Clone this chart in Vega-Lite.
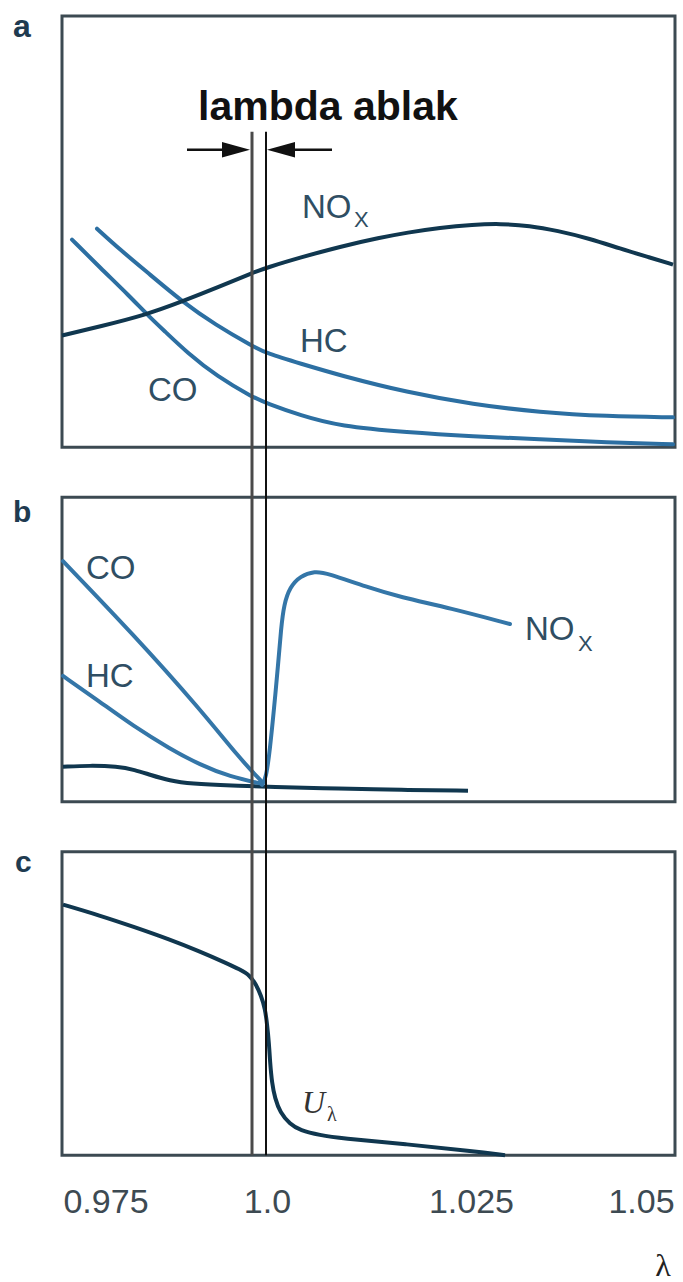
{
  "$schema": "https://vega.github.io/schema/vega-lite/v6.json",
  "width": 683,
  "height": 1282,
  "autosize": {"type": "fit", "contains": "padding"},
  "padding": 0,
  "background": "white",
  "config": {"view": {"stroke": null}, "text": {"font": "Liberation Sans"}},
  "resolve": {"scale": {"y": "independent"}},
  "layer": [
    {
      "encoding": {
        "x": {"field": "lam", "type": "quantitative", "scale": {"domain": [0.9584375, 1.06515625], "nice": false, "zero": false}, "axis": null},
        "y": {"field": "v", "type": "quantitative", "scale": {"domain": [-193.056, 103.704], "nice": false, "zero": false}, "axis": null}
      },
      "layer": [
        {
          "data": {"values": [{"lam": 0.968125, "lam2": 1.063906, "v": 0, "v2": 100}]},
          "mark": {"type": "rect", "fill": null, "stroke": "#3c4a52", "strokeWidth": 3},
          "encoding": {"x2": {"field": "lam2"}, "y2": {"field": "v2"}}
        },
        {
          "data": {"values": [
            {"series": "HC", "lam": 0.973594, "v": 50.69}, {"series": "HC", "lam": 0.977188, "v": 45.83}, {"series": "HC", "lam": 0.981875, "v": 40.05}, {"series": "HC", "lam": 0.986875, "v": 33.80}, {"series": "HC", "lam": 0.992031, "v": 28.47}, {"series": "HC", "lam": 0.997969, "v": 23.38}, {"series": "HC", "lam": 1.000156, "v": 21.76}, {"series": "HC", "lam": 1.005313, "v": 19.44}, {"series": "HC", "lam": 1.011563, "v": 16.67}, {"series": "HC", "lam": 1.022031, "v": 12.73}, {"series": "HC", "lam": 1.032344, "v": 9.95}, {"series": "HC", "lam": 1.042813, "v": 8.10}, {"series": "HC", "lam": 1.053281, "v": 7.18}, {"series": "HC", "lam": 1.063594, "v": 6.94},
            {"series": "CO", "lam": 0.969688, "v": 48.15}, {"series": "CO", "lam": 0.974063, "v": 41.67}, {"series": "CO", "lam": 0.97875, "v": 34.95}, {"series": "CO", "lam": 0.981406, "v": 30.79}, {"series": "CO", "lam": 0.984219, "v": 26.85}, {"series": "CO", "lam": 0.987656, "v": 21.99}, {"series": "CO", "lam": 0.992344, "v": 16.44}, {"series": "CO", "lam": 0.997969, "v": 11.57}, {"series": "CO", "lam": 1.000156, "v": 10.19}, {"series": "CO", "lam": 1.005313, "v": 7.41}, {"series": "CO", "lam": 1.011563, "v": 4.86}, {"series": "CO", "lam": 1.022031, "v": 3.47}, {"series": "CO", "lam": 1.032344, "v": 2.55}, {"series": "CO", "lam": 1.042813, "v": 1.85}, {"series": "CO", "lam": 1.053281, "v": 1.16}, {"series": "CO", "lam": 1.063594, "v": 0.69}
          ]},
          "mark": {"type": "line", "color": "#2c6fa2", "strokeWidth": 4, "interpolate": "basis", "strokeCap": "round"},
          "encoding": {"detail": {"field": "series"}}
        },
        {
          "data": {"values": [
            {"lam": 0.968125, "v": 25.93}, {"lam": 0.974063, "v": 28.01}, {"lam": 0.981406, "v": 30.79}, {"lam": 0.986875, "v": 33.80}, {"lam": 0.992813, "v": 37.27}, {"lam": 0.997969, "v": 40.51}, {"lam": 1.000156, "v": 41.67}, {"lam": 1.005313, "v": 43.98}, {"lam": 1.011563, "v": 46.53}, {"lam": 1.017813, "v": 48.61}, {"lam": 1.022031, "v": 49.77}, {"lam": 1.027188, "v": 50.93}, {"lam": 1.032344, "v": 51.62}, {"lam": 1.036563, "v": 51.85}, {"lam": 1.04125, "v": 51.39}, {"lam": 1.045469, "v": 50.23}, {"lam": 1.050625, "v": 48.38}, {"lam": 1.055313, "v": 46.06}, {"lam": 1.06, "v": 43.98}, {"lam": 1.063594, "v": 42.36}
          ]},
          "mark": {"type": "line", "color": "#10374f", "strokeWidth": 4, "interpolate": "basis"},
          "encoding": {}
        },
        {
          "data": {"values": [{"lam": 1.005625, "v": 53.24, "t": "NO"}, {"lam": 1.005313, "v": 21.99, "t": "HC"}, {"lam": 0.981563, "v": 10.65, "t": "CO"}]},
          "mark": {"type": "text", "align": "left", "baseline": "alphabetic", "fontSize": 33, "color": "#2f4e63"},
          "encoding": {"text": {"field": "t"}}
        },
        {
          "data": {"values": [{"lam": 1.01375, "v": 51.16, "t": "X"}]},
          "mark": {"type": "text", "align": "left", "baseline": "alphabetic", "fontSize": 22, "color": "#2f4e63"},
          "encoding": {"text": {"field": "t"}}
        },
        {
          "data": {"values": [{"lam": 0.960469, "v": 95.14, "t": "a"}]},
          "mark": {"type": "text", "align": "left", "baseline": "alphabetic", "fontSize": 32, "fontWeight": "bold", "color": "#1f3b50"},
          "encoding": {"text": {"field": "t"}}
        }
      ]
    },
    {
      "encoding": {
        "x": {"field": "lam", "type": "quantitative", "scale": {"domain": [0.9584375, 1.06515625], "nice": false, "zero": false}, "axis": null},
        "y": {"field": "v", "type": "quantitative", "scale": {"domain": [-157.049, 263.279], "nice": false, "zero": false}, "axis": null}
      },
      "layer": [
        {
          "data": {"values": [{"lam": 0.968125, "lam2": 1.063906, "v": 0, "v2": 100}]},
          "mark": {"type": "rect", "fill": null, "stroke": "#3c4a52", "strokeWidth": 3},
          "encoding": {"x2": {"field": "lam2"}, "y2": {"field": "v2"}}
        },
        {
          "data": {"values": [
            {"lam": 0.968281, "v": 11.48}, {"lam": 0.9725, "v": 11.90}, {"lam": 0.976719, "v": 11.60}, {"lam": 0.979531, "v": 10.49}, {"lam": 0.981875, "v": 8.82}, {"lam": 0.985, "v": 6.89}, {"lam": 0.988125, "v": 5.90}, {"lam": 0.994844, "v": 5.25}, {"lam": 1.000625, "v": 4.92}, {"lam": 1.011563, "v": 4.26}, {"lam": 1.020938, "v": 3.93}, {"lam": 1.031563, "v": 3.61}
          ]},
          "mark": {"type": "line", "color": "#10374f", "strokeWidth": 4, "interpolate": "basis"},
          "encoding": {}
        },
        {
          "data": {"values": [
            {"series": "CO", "lam": 0.968281, "v": 79.02}, {"series": "CO", "lam": 0.979219, "v": 55.08}, {"series": "CO", "lam": 0.989688, "v": 30.49}, {"series": "CO", "lam": 0.995938, "v": 14.10}, {"series": "CO", "lam": 0.999375, "v": 6.56},
            {"series": "HC", "lam": 0.968281, "v": 41.31}, {"series": "HC", "lam": 0.974063, "v": 32.79}, {"series": "HC", "lam": 0.979219, "v": 24.92}, {"series": "HC", "lam": 0.985, "v": 17.38}, {"series": "HC", "lam": 0.989688, "v": 12.13}, {"series": "HC", "lam": 0.994375, "v": 8.20}, {"series": "HC", "lam": 0.999375, "v": 5.90},
            {"series": "NOx", "lam": 0.999375, "v": 5.57}, {"series": "NOx", "lam": 1.0, "v": 7.54}, {"series": "NOx", "lam": 1.000625, "v": 17.38}, {"series": "NOx", "lam": 1.00125, "v": 30.49}, {"series": "NOx", "lam": 1.001875, "v": 44.59}, {"series": "NOx", "lam": 1.002344, "v": 56.72}, {"series": "NOx", "lam": 1.002813, "v": 64.92}, {"series": "NOx", "lam": 1.00375, "v": 70.49}, {"series": "NOx", "lam": 1.005313, "v": 74.10}, {"series": "NOx", "lam": 1.007656, "v": 75.74}, {"series": "NOx", "lam": 1.009531, "v": 75.08}, {"series": "NOx", "lam": 1.015781, "v": 70.49}, {"series": "NOx", "lam": 1.020938, "v": 67.21}, {"series": "NOx", "lam": 1.02875, "v": 63.61}, {"series": "NOx", "lam": 1.038125, "v": 58.36}
          ]},
          "mark": {"type": "line", "color": "#3476a8", "strokeWidth": 4, "interpolate": "basis", "strokeCap": "round"},
          "encoding": {"detail": {"field": "series"}}
        },
        {
          "data": {"values": [{"lam": 0.971875, "v": 73.11, "t": "CO"}, {"lam": 0.971875, "v": 37.70, "t": "HC"}, {"lam": 1.040469, "v": 53.11, "t": "NO"}]},
          "mark": {"type": "text", "align": "left", "baseline": "alphabetic", "fontSize": 33, "color": "#2f4e63"},
          "encoding": {"text": {"field": "t"}}
        },
        {
          "data": {"values": [{"lam": 1.04875, "v": 49.51, "t": "X"}]},
          "mark": {"type": "text", "align": "left", "baseline": "alphabetic", "fontSize": 22, "color": "#2f4e63"},
          "encoding": {"text": {"field": "t"}}
        },
        {
          "data": {"values": [{"lam": 0.960469, "v": 91.80, "t": "b"}]},
          "mark": {"type": "text", "align": "left", "baseline": "alphabetic", "fontSize": 30, "fontWeight": "bold", "color": "#1f3b50"},
          "encoding": {"text": {"field": "t"}}
        }
      ]
    },
    {
      "encoding": {
        "x": {"field": "lam", "type": "quantitative", "scale": {"domain": [0.9584375, 1.06515625], "nice": false, "zero": false}, "axis": null},
        "y": {"field": "v", "type": "quantitative", "scale": {"domain": [-41.118, 380.592], "nice": false, "zero": false}, "axis": null}
      },
      "layer": [
        {
          "data": {"values": [{"lam": 0.968125, "lam2": 1.063906, "v": 0, "v2": 100}]},
          "mark": {"type": "rect", "fill": null, "stroke": "#3c4a52", "strokeWidth": 3},
          "encoding": {"x2": {"field": "lam2"}, "y2": {"field": "v2"}}
        },
        {
          "data": {"values": [
            {"lam": 0.968281, "v": 82.57}, {"lam": 0.974063, "v": 78.95}, {"lam": 0.979219, "v": 75.33}, {"lam": 0.985, "v": 71.05}, {"lam": 0.989688, "v": 67.11}, {"lam": 0.993594, "v": 63.49}, {"lam": 0.995938, "v": 61.18}, {"lam": 0.9975, "v": 59.21}, {"lam": 0.998438, "v": 56.25}, {"lam": 0.999219, "v": 52.63}, {"lam": 0.999844, "v": 48.36}, {"lam": 1.000156, "v": 43.42}, {"lam": 1.000469, "v": 36.84}, {"lam": 1.000625, "v": 30.92}, {"lam": 1.000938, "v": 23.68}, {"lam": 1.001406, "v": 18.75}, {"lam": 1.002188, "v": 14.14}, {"lam": 1.00375, "v": 10.20}, {"lam": 1.005313, "v": 8.22}, {"lam": 1.008438, "v": 6.58}, {"lam": 1.011563, "v": 5.59}, {"lam": 1.022031, "v": 3.62}, {"lam": 1.032344, "v": 1.32}, {"lam": 1.037344, "v": 0}
          ]},
          "mark": {"type": "line", "color": "#10374f", "strokeWidth": 4, "interpolate": "basis"},
          "encoding": {}
        },
        {
          "data": {"values": [{"lam": 1.005625, "v": 13.82, "t": "U"}]},
          "mark": {"type": "text", "align": "left", "baseline": "alphabetic", "fontSize": 32, "font": "Liberation Serif", "fontStyle": "italic", "color": "#333333"},
          "encoding": {"text": {"field": "t"}}
        },
        {
          "data": {"values": [{"lam": 1.009531, "v": 11.20, "t": "λ"}]},
          "mark": {"type": "text", "align": "left", "baseline": "alphabetic", "fontSize": 20, "font": "Liberation Serif", "color": "#333333"},
          "encoding": {"text": {"field": "t"}}
        },
        {
          "data": {"values": [{"lam": 0.960781, "v": 93.42, "t": "c"}]},
          "mark": {"type": "text", "align": "left", "baseline": "alphabetic", "fontSize": 30, "fontWeight": "bold", "color": "#1f3b50"},
          "encoding": {"text": {"field": "t"}}
        },
        {
          "data": {"values": [{"lam": 0.975, "v": -19.08, "t": "0.975"}, {"lam": 1.000234, "v": -19.08, "t": "1.0"}, {"lam": 1.032109, "v": -19.08, "t": "1.025"}, {"lam": 1.058672, "v": -19.08, "t": "1.05"}]},
          "mark": {"type": "text", "align": "center", "baseline": "alphabetic", "fontSize": 34, "color": "#3d4a52"},
          "encoding": {"text": {"field": "t"}}
        },
        {
          "data": {"values": [{"lam": 1.062031, "v": -39.80, "t": "λ"}]},
          "mark": {"type": "text", "align": "center", "baseline": "alphabetic", "fontSize": 32, "font": "Liberation Serif", "color": "#222222"},
          "encoding": {"text": {"field": "t"}}
        }
      ]
    },
    {
      "encoding": {
        "x": {"field": "lam", "type": "quantitative", "scale": {"domain": [0.9584375, 1.06515625], "nice": false, "zero": false}, "axis": null},
        "y": {"field": "v", "type": "quantitative", "scale": {"domain": [-193.056, 103.704], "nice": false, "zero": false}, "axis": null}
      },
      "layer": [
        {
          "data": {"values": [{"lam": 0.9978125, "v": 73.15, "v2": -164.12}]},
          "mark": {"type": "rule", "color": "#4a4a4a", "strokeWidth": 3},
          "encoding": {"y2": {"field": "v2"}}
        },
        {
          "data": {"values": [{"lam": 1.0, "v": 73.15, "v2": -164.12}]},
          "mark": {"type": "rule", "color": "#111111", "strokeWidth": 2},
          "encoding": {"y2": {"field": "v2"}}
        },
        {
          "data": {"values": [{"lam": 0.987656, "lam2": 0.99375, "v": 68.98}, {"lam": 1.002813, "lam2": 1.010313, "v": 68.98}]},
          "mark": {"type": "rule", "color": "#111111", "strokeWidth": 2.5},
          "encoding": {"x2": {"field": "lam2"}}
        },
        {
          "data": {"values": [{"lam": 0.995313, "v": 68.98}]},
          "mark": {"type": "point", "shape": "M-1,-0.55L1,0L-1,0.55Z", "filled": true, "color": "#111111", "size": 784, "opacity": 1},
          "encoding": {}
        },
        {
          "data": {"values": [{"lam": 1.002344, "v": 68.98}]},
          "mark": {"type": "point", "shape": "M1,-0.55L-1,0L1,0.55Z", "filled": true, "color": "#111111", "size": 784, "opacity": 1},
          "encoding": {}
        },
        {
          "data": {"values": [{"lam": 0.989375, "v": 75.93, "t": "lambda ablak"}]},
          "mark": {"type": "text", "align": "left", "baseline": "alphabetic", "fontSize": 41, "fontWeight": "bold", "color": "#111111"},
          "encoding": {"text": {"field": "t"}}
        }
      ]
    }
  ]
}
